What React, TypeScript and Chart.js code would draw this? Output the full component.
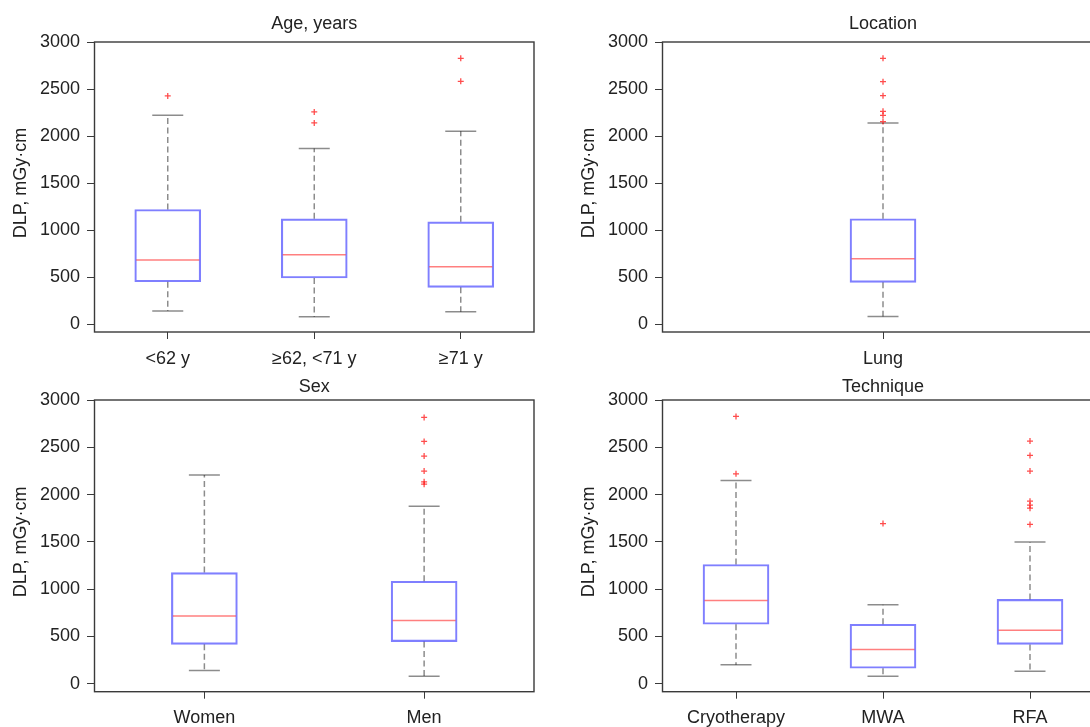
import React, { useEffect, useRef } from "react";
import { Chart, registerables } from "chart.js";

Chart.register(...registerables);

// ---------- data ----------
const yTickValues = [0, 500, 1000, 1500, 2000, 2500, 3000];
const yMin = -85;
const yMax = 3000;
const yAxisTitle = "DLP, mGy·cm";

const ageTitle = "Age, years";
const ageCats = ["<62 y", "≥62, <71 y", "≥71 y"];
const ageLow = [138, 78, 131];
const ageQ1 = [450, 489, 390];
const ageMed = [680, 737, 609];
const ageQ3 = [1218, 1119, 1087];
const ageHigh = [2221, 1867, 2051];
const ageOutliers = [[2426], [2256, 2139], [2826, 2582]];

const locTitle = "Location";
const locCats = ["Lung"];
const locLow = [80];
const locQ1 = [443];
const locMed = [695];
const locQ3 = [1120];
const locHigh = [2138];
const locOutliers = [[2826, 2578, 2429, 2262, 2220, 2154]];

const sexTitle = "Sex";
const sexCats = ["Women", "Men"];
const sexLow = [138, 78];
const sexQ1 = [416, 445];
const sexMed = [716, 667];
const sexQ3 = [1175, 1083];
const sexHigh = [2206, 1877];
const sexOutliers = [[], [2816, 2562, 2407, 2248, 2135, 2110]];

const techTitle = "Technique";
const techCats = ["Cryotherapy", "MWA", "RFA"];
const techLow = [199, 78, 131];
const techQ1 = [628, 163, 415];
const techMed = [880, 362, 564];
const techQ3 = [1260, 628, 891];
const techHigh = [2148, 834, 1498];
const techOutliers = [[2826, 2219], [1693], [2566, 2414, 2248, 1930, 1888, 1856, 1684]];

// ---------- styles ----------
const FONT = "'Liberation Sans', Arial, sans-serif";
const FONT_SIZE = 18;
const TEXT_COLOR = "#222";
const FRAME_COLOR = "#3a3a3a";
const BOX_COLOR = "rgba(0,0,255,0.5)";
const MED_COLOR = "rgba(255,0,0,0.5)";
const WHISK_COLOR = "rgba(0,0,0,0.45)";
const OUT_COLOR = "rgba(255,0,0,0.7)";
const BOX_W = 66;
const CAP_W = 31;

type Panel = {
  title: string;
  cats: string[];
  low: number[];
  q1: number[];
  med: number[];
  q3: number[];
  high: number[];
  outliers: number[][];
  left: number;
  top: number;
  width: number;
  height: number;
  padTop: number;
  padRight: number;
  yWidth: number;
  xHeight: number;
  titleGap: number;
};

const panels: Panel[] = [
  {
    title: ageTitle, cats: ageCats, low: ageLow, q1: ageQ1, med: ageMed, q3: ageQ3, high: ageHigh, outliers: ageOutliers,
    left: 0, top: 0, width: 545, height: 370, padTop: 42, padRight: 11, yWidth: 94.5, xHeight: 38, titleGap: 18,
  },
  {
    title: locTitle, cats: locCats, low: locLow, q1: locQ1, med: locMed, q3: locQ3, high: locHigh, outliers: locOutliers,
    left: 545, top: 0, width: 575, height: 370, padTop: 42, padRight: 16.5, yWidth: 117.5, xHeight: 38, titleGap: 18,
  },
  {
    title: sexTitle, cats: sexCats, low: sexLow, q1: sexQ1, med: sexMed, q3: sexQ3, high: sexHigh, outliers: sexOutliers,
    left: 0, top: 370, width: 545, height: 357, padTop: 30, padRight: 11, yWidth: 94.5, xHeight: 35.3, titleGap: 13.3,
  },
  {
    title: techTitle, cats: techCats, low: techLow, q1: techQ1, med: techMed, q3: techQ3, high: techHigh, outliers: techOutliers,
    left: 545, top: 370, width: 575, height: 357, padTop: 30, padRight: 16.5, yWidth: 117.5, xHeight: 35.3, titleGap: 13.3,
  },
];

function BoxPanel({ p }: { p: Panel }) {
  const ref = useRef<HTMLCanvasElement | null>(null);

  useEffect(() => {
    if (!ref.current) return;

    const outlierPoints: { x: string; y: number }[] = [];
    p.outliers.forEach((arr, i) => arr.forEach((v) => outlierPoints.push({ x: p.cats[i], y: v })));

    const boxPlugin = {
      id: "boxDecor",
      beforeDatasetsDraw(chart: any) {
        const ctx = chart.ctx;
        const xs = chart.scales.x;
        const ys = chart.scales.y;
        ctx.save();
        ctx.strokeStyle = WHISK_COLOR;
        ctx.lineWidth = 1.5;
        p.cats.forEach((_, i) => {
          const x = xs.getPixelForValue(i);
          const yLo = ys.getPixelForValue(p.low[i]);
          const yQ1 = ys.getPixelForValue(p.q1[i]);
          const yQ3 = ys.getPixelForValue(p.q3[i]);
          const yHi = ys.getPixelForValue(p.high[i]);
          ctx.setLineDash([6, 3.5]);
          ctx.beginPath();
          ctx.moveTo(x, yQ3);
          ctx.lineTo(x, yHi);
          ctx.moveTo(x, yQ1);
          ctx.lineTo(x, yLo);
          ctx.stroke();
          ctx.setLineDash([]);
          ctx.beginPath();
          ctx.moveTo(x - CAP_W / 2, yHi);
          ctx.lineTo(x + CAP_W / 2, yHi);
          ctx.moveTo(x - CAP_W / 2, yLo);
          ctx.lineTo(x + CAP_W / 2, yLo);
          ctx.stroke();
        });
        ctx.restore();
      },
      afterDatasetsDraw(chart: any) {
        const ctx = chart.ctx;
        const xs = chart.scales.x;
        const ys = chart.scales.y;
        const a = chart.chartArea;
        ctx.save();
        // medians
        ctx.strokeStyle = MED_COLOR;
        ctx.lineWidth = 1.5;
        p.cats.forEach((_, i) => {
          const x = xs.getPixelForValue(i);
          const y = ys.getPixelForValue(p.med[i]);
          ctx.beginPath();
          ctx.moveTo(x - BOX_W / 2 + 1.5, y);
          ctx.lineTo(x + BOX_W / 2 - 1.5, y);
          ctx.stroke();
        });
        // frame
        ctx.strokeStyle = FRAME_COLOR;
        ctx.lineWidth = 1.4;
        ctx.strokeRect(a.left, a.top, a.right - a.left, a.bottom - a.top);
        // title
        ctx.fillStyle = TEXT_COLOR;
        ctx.font = `${FONT_SIZE}px ${FONT}`;
        ctx.textAlign = "center";
        ctx.textBaseline = "middle";
        ctx.fillText(p.title, (a.left + a.right) / 2, a.top - p.titleGap);
        // y axis title
        const yc = ys.getPixelForValue(1500);
        ctx.translate(a.left - 73.5, yc);
        ctx.rotate(-Math.PI / 2);
        ctx.fillText(yAxisTitle, 0, 0);
        ctx.restore();
      },
    };

    const chart = new Chart(ref.current, {
      type: "bar",
      data: {
        labels: p.cats,
        datasets: [
          {
            type: "bar",
            data: p.cats.map((_, i) => [p.q1[i], p.q3[i]]) as any,
            backgroundColor: "rgba(0,0,0,0)",
            borderColor: BOX_COLOR,
            borderWidth: 1.5,
            borderSkipped: false,
            barThickness: BOX_W,
            order: 2,
          } as any,
          {
            type: "scatter",
            data: outlierPoints as any,
            pointStyle: "cross",
            radius: 3,
            borderColor: OUT_COLOR,
            backgroundColor: OUT_COLOR,
            borderWidth: 1.3,
            order: 1,
          } as any,
        ],
      },
      options: {
        animation: false,
        responsive: false,
        devicePixelRatio: 1,
        events: [],
        layout: { padding: { top: p.padTop, right: p.padRight, left: 0, bottom: 0 } },
        plugins: { legend: { display: false }, tooltip: { enabled: false }, title: { display: false } },
        scales: {
          x: {
            type: "category",
            offset: true,
            grid: { display: true, drawOnChartArea: false, drawTicks: true, tickLength: 7, color: FRAME_COLOR, offset: false },
            border: { display: false },
            ticks: { color: TEXT_COLOR, font: { size: FONT_SIZE, family: FONT }, padding: 9, maxRotation: 0, autoSkip: false },
            afterFit: (s: any) => { s.height = p.xHeight; },
          },
          y: {
            type: "linear",
            min: yMin,
            max: yMax,
            grid: { display: true, drawOnChartArea: false, drawTicks: true, tickLength: 7.5, color: FRAME_COLOR },
            border: { display: false },
            ticks: {
              color: TEXT_COLOR,
              font: { size: FONT_SIZE, family: FONT },
              padding: 7,
              callback: (v: any) => String(v),
            },
            afterBuildTicks: (s: any) => { s.ticks = yTickValues.map((v) => ({ value: v })); },
            afterFit: (s: any) => { s.width = p.yWidth; },
          },
        },
      } as any,
      plugins: [boxPlugin],
    });
    return () => chart.destroy();
  }, [p]);

  return (
    <canvas
      ref={ref}
      width={p.width}
      height={p.height}
      style={{ position: "absolute", left: p.left, top: p.top, width: p.width, height: p.height }}
    />
  );
}

export default function App() {
  return (
    <div style={{ position: "fixed", left: 0, top: 0, width: 1090, height: 727, overflow: "hidden", background: "#fff" }}>
      {panels.map((p, i) => (
        <BoxPanel key={i} p={p} />
      ))}
    </div>
  );
}
